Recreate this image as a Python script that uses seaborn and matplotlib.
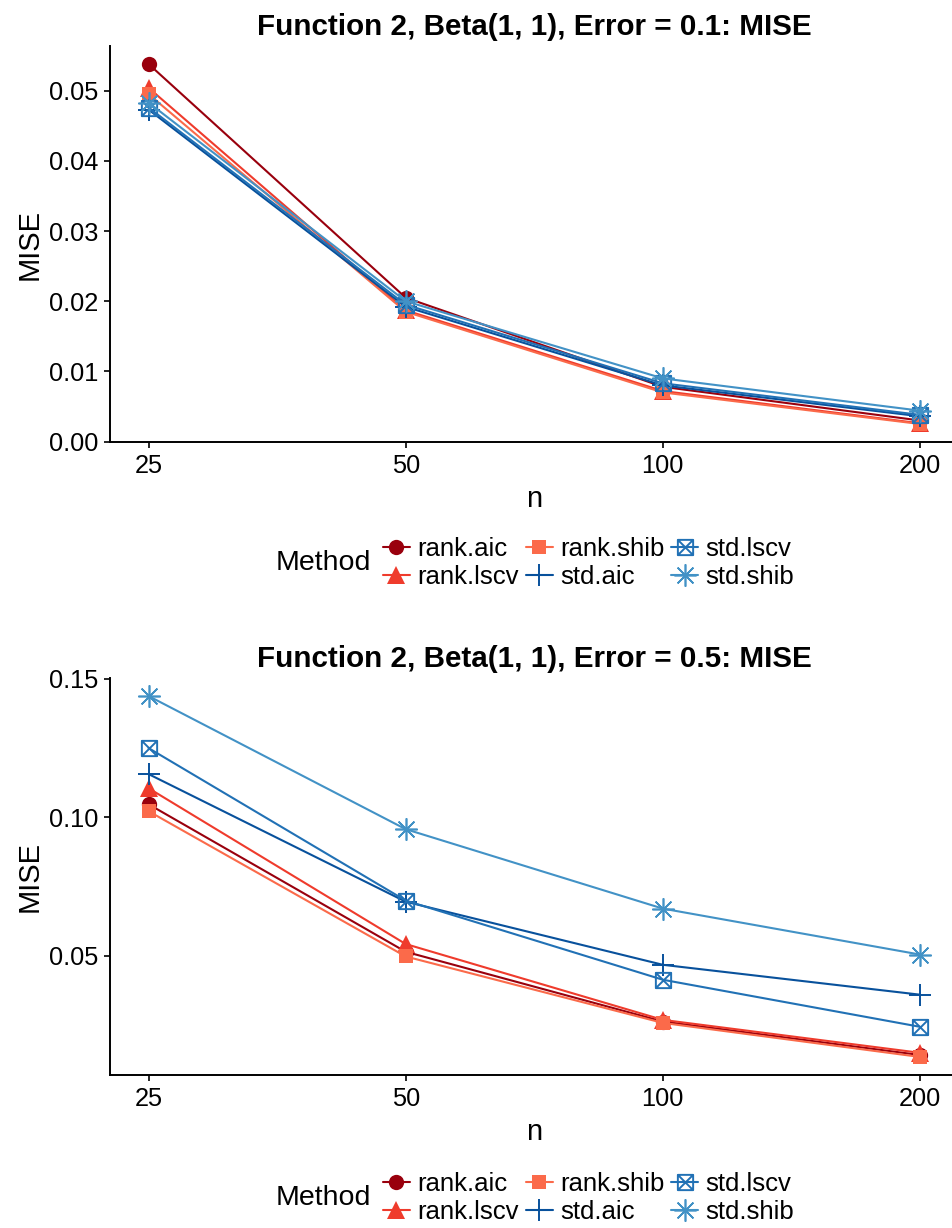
import numpy as np
import pandas as pd
import seaborn as sns
import matplotlib.pyplot as plt
from matplotlib.path import Path
from matplotlib.lines import Line2D

sns.set_style("white")
plt.rcParams['font.family'] = ['Liberation Sans', 'DejaVu Sans']
plt.rcParams['text.color'] = 'black'
plt.rcParams['axes.labelcolor'] = 'black'

# data
n_vals = [25, 50, 100, 200]
methods = ['rank.aic', 'rank.lscv', 'rank.shib', 'std.aic', 'std.lscv', 'std.shib']

mise_err01 = {
    'rank.aic':  [0.0538, 0.0205, 0.0078, 0.0030],
    'rank.lscv': [0.0504, 0.0187, 0.0072, 0.0026],
    'rank.shib': [0.0495, 0.0185, 0.0070, 0.0025],
    'std.aic':   [0.0473, 0.0192, 0.0080, 0.0036],
    'std.lscv':  [0.0476, 0.0195, 0.0083, 0.0038],
    'std.shib':  [0.0483, 0.0200, 0.0090, 0.0044],
}
mise_err05 = {
    'rank.aic':  [0.1047, 0.0514, 0.0262, 0.0141],
    'rank.lscv': [0.1105, 0.0542, 0.0268, 0.0149],
    'rank.shib': [0.1022, 0.0497, 0.0257, 0.0134],
    'std.aic':   [0.1156, 0.0695, 0.0467, 0.0359],
    'std.lscv':  [0.1250, 0.0699, 0.0413, 0.0243],
    'std.shib':  [0.1438, 0.0957, 0.0670, 0.0504],
}

colors = {'rank.aic': '#99000D', 'rank.lscv': '#EF3B2C', 'rank.shib': '#FB6A4A',
          'std.aic': '#08519C', 'std.lscv': '#2171B5', 'std.shib': '#4292C6'}

# square with an x inside (ggplot shape 7)
box_x = Path([(-1, -1), (1, -1), (1, 1), (-1, 1), (-1, -1),
              (-1, -1), (1, 1), (-1, 1), (1, -1)],
             [Path.MOVETO, Path.LINETO, Path.LINETO, Path.LINETO, Path.CLOSEPOLY,
              Path.MOVETO, Path.LINETO, Path.MOVETO, Path.LINETO])

mstyle = {
    'rank.aic':  dict(marker='o', markersize=11, markeredgewidth=0),
    'rank.lscv': dict(marker='^', markersize=12.5, markeredgewidth=0),
    'rank.shib': dict(marker='s', markersize=10, markeredgewidth=0),
    'std.aic':   dict(marker='+', markersize=16, markeredgewidth=1.4),
    'std.lscv':  dict(marker=box_x, markersize=11, markeredgewidth=1.4, markerfacecolor='none'),
    'std.shib':  dict(marker=(8, 2, 0), markersize=16, markeredgewidth=1.2),
}


def to_frame(d):
    rows = []
    for m in methods:
        for n, v in zip(n_vals, d[m]):
            rows.append({'n': n, 'MISE': v, 'Method': m})
    return pd.DataFrame(rows)


def draw_panel(ax, df, title, yticks, ylabels):
    for m in methods:
        sub = df[df.Method == m]
        st = dict(mstyle[m])
        if 'markerfacecolor' not in st:
            st['markerfacecolor'] = colors[m]
        sns.lineplot(data=sub, x='n', y='MISE', ax=ax, color=colors[m],
                     linewidth=1.5, markeredgecolor=colors[m], legend=False, **st)
    ax.set_xscale('log', base=2)
    ax.set_xlim(25 / 2 ** 0.15, 200 * 2 ** 0.15)
    ax.set_xticks(n_vals)
    ax.set_xticklabels([str(v) for v in n_vals])
    ax.minorticks_off()
    ax.set_yticks(yticks)
    ax.set_yticklabels(ylabels)
    lo = df.MISE.min()
    hi = df.MISE.max()
    pad = (hi - lo) * 0.05
    ax.set_ylim(lo - pad, hi + pad)
    ax.set_title(title, fontsize=21.3, fontweight='bold', pad=8)
    ax.set_xlabel('n', fontsize=21, labelpad=5)
    ax.set_ylabel('MISE', fontsize=21, labelpad=4)
    for s in ['top', 'right']:
        ax.spines[s].set_visible(False)
    for s in ['left', 'bottom']:
        ax.spines[s].set_linewidth(1.4)
        ax.spines[s].set_color('black')
    ax.tick_params(axis='both', which='major', direction='out', length=4, width=1.2,
                   labelsize=18.3, colors='black', bottom=True, left=True, pad=4.5)


def draw_legend(fig, y):
    handles = []
    for m in methods:
        st = dict(mstyle[m])
        if 'markerfacecolor' not in st:
            st['markerfacecolor'] = colors[m]
        handles.append(Line2D([], [], color=colors[m], linewidth=1.5,
                              markeredgecolor=colors[m], **st))
    fig.legend(handles, methods, loc='center left', bbox_to_anchor=(383 / 953, y), ncol=3,
               frameon=False, fontsize=18.5, handlelength=1.05, handletextpad=0.3,
               columnspacing=0.25, labelspacing=0.12, borderpad=0, borderaxespad=0)
    fig.text(323 / 953, y, 'Method', fontsize=20.5, ha='center', va='center')


fig = plt.figure(figsize=(9.53, 12.28), dpi=100)
ax1 = fig.add_axes([110 / 953, 1 - 442 / 1228, 848.5 / 953, 396 / 1228])
ax2 = fig.add_axes([110 / 953, 1 - 1075 / 1228, 848.5 / 953, 397 / 1228])

draw_panel(ax1, to_frame(mise_err01), 'Function 2, Beta(1, 1), Error = 0.1: MISE',
           [0.0, 0.01, 0.02, 0.03, 0.04, 0.05],
           ['0.00', '0.01', '0.02', '0.03', '0.04', '0.05'])
draw_panel(ax2, to_frame(mise_err05), 'Function 2, Beta(1, 1), Error = 0.5: MISE',
           [0.05, 0.10, 0.15], ['0.05', '0.10', '0.15'])

draw_legend(fig, 1 - 563 / 1228)
draw_legend(fig, 1 - 1198 / 1228)

fig.savefig('out.png', dpi=100)
